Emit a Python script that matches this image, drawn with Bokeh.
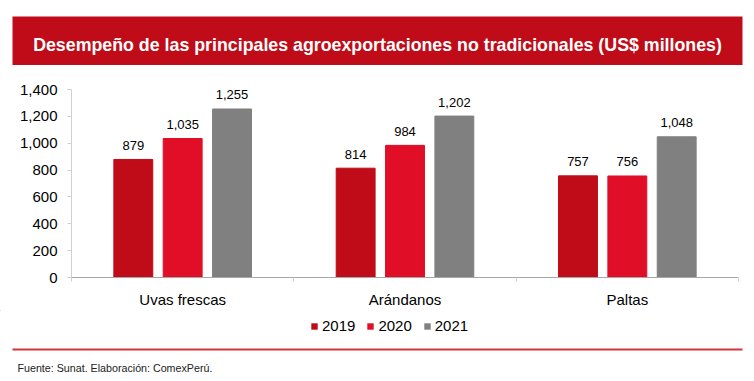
from bokeh.plotting import figure
from bokeh.layouts import column
from bokeh.models import (Range1d, FixedTicker, Legend, LegendItem, NumeralTickFormatter)
from bokeh.embed import file_html
from bokeh.resources import INLINE
from bokeh.core.properties import value

# ---- data ----
categories = ["Uvas frescas", "Arándanos", "Paltas"]
years = ["2019", "2020", "2021"]
v2019 = [879, 814, 757]
v2020 = [1035, 984, 756]
v2021 = [1255, 1202, 1048]
y_ticks = [0, 200, 400, 600, 800, 1000, 1200, 1400]
title_text = "Desempeño de las principales agroexportaciones no tradicionales (US$ millones)"
source_text = "Fuente: Sunat. Elaboración: ComexPerú."

colors = ["#C00C18", "#E00E26", "#808080"]
FONT = "Liberation Sans"
W = 754


def blank_fig(h):
    f = figure(width=W, height=h, output_backend="svg", toolbar_location=None,
               x_range=Range1d(0, W), y_range=Range1d(h, 0),
               min_border=0, min_border_left=0, min_border_right=0,
               min_border_top=0, min_border_bottom=0, frame_align=False)
    f.axis.visible = False
    f.grid.visible = False
    f.outline_line_color = None
    f.background_fill_color = "white"
    f.border_fill_color = "white"
    return f


# ---- title banner ----
top = blank_fig(65)
top.quad(left=[12], right=[742], top=[16], bottom=[65], fill_color="#C00C18",
         line_color=None)
top.text(x=[377], y=[44], text=[title_text], text_align="center",
         text_baseline="middle", text_color="white", text_font=value(FONT),
         text_font_style="bold", text_font_size="17.8px")

# ---- main chart ----
p = figure(width=W, height=245, output_backend="svg", toolbar_location=None,
           x_range=Range1d(0, 3), y_range=Range1d(0, 1400),
           min_border_left=71, min_border_right=16, min_border_top=24,
           min_border_bottom=31, frame_align=False)
p.outline_line_color = None
p.xgrid.visible = False
p.ygrid.visible = False
p.background_fill_color = "white"
p.border_fill_color = "white"

ya = p.yaxis[0]
ya.ticker = FixedTicker(ticks=y_ticks)
ya.formatter = NumeralTickFormatter(format="0,0")
ya.major_label_text_font = FONT
ya.major_label_text_font_size = "15px"
ya.major_label_text_color = "black"
ya.axis_line_color = "#D0D0D0"
ya.major_tick_line_color = "#D0D0D0"
ya.major_tick_out = 4
ya.major_tick_in = 0
ya.minor_tick_line_color = None
ya.major_label_standoff = 10

xa = p.xaxis[0]
centers = [i + 0.5 for i in range(len(categories))]
xa.ticker = FixedTicker(ticks=centers, minor_ticks=list(range(len(categories) + 1)))
xa.major_label_overrides = {c: lab for c, lab in zip(centers, categories)}
xa.major_label_text_font = FONT
xa.major_label_text_font_size = "15px"
xa.major_label_text_color = "black"
xa.major_tick_line_color = None
xa.major_tick_out = 0
xa.major_tick_in = 0
xa.minor_tick_line_color = "#D0D0D0"
xa.minor_tick_out = 4
xa.minor_tick_in = 0
xa.axis_line_color = "#A6A6A6"
xa.major_label_standoff = 9

for j, (yr, vals, col) in enumerate(zip(years, [v2019, v2020, v2021], colors)):
    xs = [c + (j - 1) * 0.222 for c in centers]
    p.vbar(x=xs, top=vals, width=0.175, fill_color=col, line_color=col)
    p.text(x=xs, y=vals, text=[f"{v:,}" for v in vals], text_align="center",
           text_baseline="alphabetic", y_offset=-14, text_font=value(FONT),
           text_font_size="13px", text_color="black")

# ---- legend + footer ----
foot = blank_fig(71)
items = []
for yr, col in zip(years, colors):
    r = foot.vbar(x=[-1000], top=[-1000], bottom=[-1001], width=1,
                  fill_color=col, line_color=None)
    items.append(LegendItem(label=yr, renderers=[r]))
legend = Legend(items=items, orientation="horizontal", location=(310, 47),
                glyph_width=8, glyph_height=8, label_standoff=4, spacing=11,
                padding=0, margin=0, border_line_color=None, label_height=16,
                background_fill_alpha=0, label_text_font=FONT,
                label_text_font_size="15px", label_text_color="black")
foot.add_layout(legend, "center")
foot.quad(left=[12], right=[742], top=[38], bottom=[40], fill_color="#D4333B",
          line_color=None)
foot.text(x=[17], y=[57], text=[source_text], text_align="left",
          text_baseline="alphabetic", text_color="#222222", text_font=value(FONT),
          text_font_size="10.7px")

layout = column(top, p, foot, spacing=0)
open("out.html", "w").write(file_html(layout, INLINE))
